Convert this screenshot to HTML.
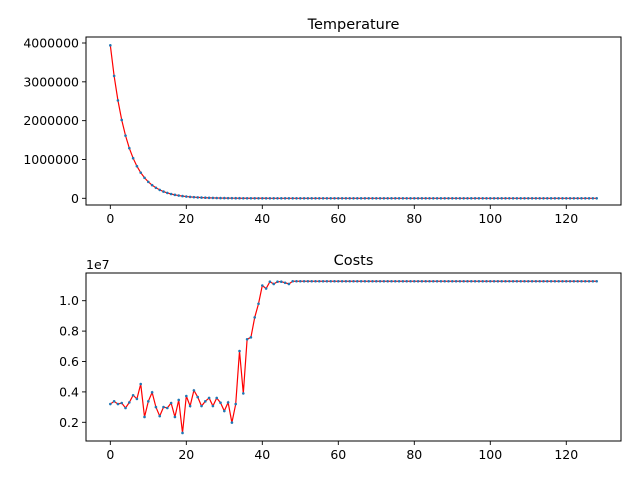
<!DOCTYPE html>
<html><head><meta charset="utf-8"><style>
html,body{margin:0;padding:0;background:#fff;}
svg{display:block;font-family:"DejaVu Sans","Liberation Sans",sans-serif;}
</style></head><body>
<svg id="chart" width="640" height="480" viewBox="0 0 640 480" xmlns="http://www.w3.org/2000/svg">
<rect x="0" y="0" width="640" height="480" fill="#fff"/>
</svg>
<script>
const tempValues=[3940000,3152000,2521600,2017280,1613824,1291059,1032847,826278,661022,528818,423054,338443,270755,216604,173283,138627,110901,88721,70977,56781,45425,36340,29072,23258,18606,14885,11908,9526,7621,6097,4878,3902,3122,2497,1998,1598,1279,1023,818,655,524,419,335,268,214,172,137,110,88,70,
0,0,0,0,0,0,0,0,0,0,0,0,0,0,0,0,0,0,0,0,0,0,0,0,0,0,0,0,0,0,0,0,0,0,0,0,0,0,0,0,
0,0,0,0,0,0,0,0,0,0,0,0,0,0,0,0,0,0,0,0,0,0,0,0,0,0,0,0,0,0,0,0,0,0,0,0,0,0,0];
const costValues=[0.32,0.338,0.32,0.327,0.294,0.331,0.378,0.354,0.452,0.235,0.338,0.397,0.30,0.241,0.30,0.294,0.327,0.235,0.347,0.13,0.373,0.307,0.41,0.366,0.307,0.338,0.36,0.307,0.36,0.329,0.274,0.331,0.198,0.32,0.669,0.39,0.746,0.759,0.89,0.98,1.10,1.08,1.125,1.11,1.125,1.125,1.118,1.11,1.128,
1.128,1.128,1.128,1.128,1.128,1.128,1.128,1.128,1.128,1.128,1.128,1.128,1.128,1.128,1.128,1.128,1.128,1.128,1.128,1.128,1.128,1.128,1.128,1.128,1.128,1.128,1.128,1.128,1.128,1.128,1.128,1.128,1.128,1.128,1.128,1.128,1.128,1.128,1.128,1.128,1.128,
1.128,1.128,1.128,1.128,1.128,1.128,1.128,1.128,1.128,1.128,1.128,1.128,1.128,1.128,1.128,1.128,1.128,1.128,1.128,1.128,1.128,1.128,1.128,1.128,1.128,1.128,1.128,1.128,1.128,1.128,1.128,1.128,1.128,1.128,1.128,1.128,1.128,1.128,1.128];
const xTicks=[0,20,40,60,80,100,120];
const tempTicks=[0,1000000,2000000,3000000,4000000];
const tempTickLabels=["0","1000000","2000000","3000000","4000000"];
const costTicks=[0.2,0.4,0.6,0.8,1.0];
const costTickLabels=["0.2","0.4","0.6","0.8","1.0"];

const NS="http://www.w3.org/2000/svg";
const svg=document.getElementById('chart');
function mk(tag,attrs,parent){const e=document.createElementNS(NS,tag);for(const k in attrs)e.setAttribute(k,attrs[k]);(parent||svg).appendChild(e);return e;}

function panel(cfg){
  const g=mk('g',{});
  
  
  const L=86,R=621,T=cfg.top,B=cfg.bottom;
  const n=cfg.values.length;
  const xmin=-(n-1)*0.05,xmax=(n-1)*1.05;
  const X=v=>L+(v-xmin)/(xmax-xmin)*(R-L);
  const Y=v=>cfg.y0px+(v-cfg.y0)/(cfg.y1-cfg.y0)*(cfg.y1px-cfg.y0px);
  const t=mk('text',{x:(L+R)/2,y:T-8,'text-anchor':'middle','font-size':'14.5',fill:'#000'},g);
  t.textContent=cfg.title;
  
  
  let d='';cfg.values.forEach((v,i)=>{d+=(i?'L':'M')+X(i).toFixed(2)+' '+Y(v).toFixed(2);});
  const ln=mk('path',{d:d,fill:'none',stroke:'#ff0000','stroke-width':'1.2'},g);
  
  
  cfg.values.forEach((v,i)=>{
    const c=mk('circle',{cx:X(i),cy:Y(v),r:1.3,fill:'#1f77b4'},g);
    
    
  });
  const fr=mk('rect',{x:L,y:T,width:R-L,height:B-T,fill:'none',stroke:'#000','stroke-width':'1'},g);
  
  
  xTicks.forEach(v=>{
    const x=X(v);
    mk('line',{x1:x,x2:x,y1:B,y2:B+4,stroke:'#000','stroke-width':'0.9'},g);
    const tx=mk('text',{x:x,y:B+18,'text-anchor':'middle','font-size':'12.5',fill:'#000'},g);
    tx.textContent=String(v);
    
    
  });
  cfg.ticks.forEach((v,i)=>{
    const y=Y(v);
    mk('line',{x1:L-4,x2:L,y1:y,y2:y,stroke:'#000','stroke-width':'0.9'},g);
    const ty=mk('text',{x:L-7,y:y+4.5,'text-anchor':'end','font-size':'12.5',fill:'#000'},g);
    ty.textContent=cfg.labels[i];
    
    
  });
  if(cfg.offset){
    const o=mk('text',{x:L,y:T-4,'font-size':'12.5',fill:'#000'},g);
    o.textContent=cfg.offset;
    
    
  }
}
panel({name:'temperature-panel',title:'Temperature',values:tempValues,top:37,bottom:205,y0:0,y1:4000000,y0px:198.3,y1px:43,ticks:tempTicks,labels:tempTickLabels});
panel({name:'costs-panel',title:'Costs',values:costValues,top:273,bottom:441,y0:0.2,y1:1.0,y0px:422.3,y1px:300.7,ticks:costTicks,labels:costTickLabels,offset:'1e7'});
</script>
</body></html>
